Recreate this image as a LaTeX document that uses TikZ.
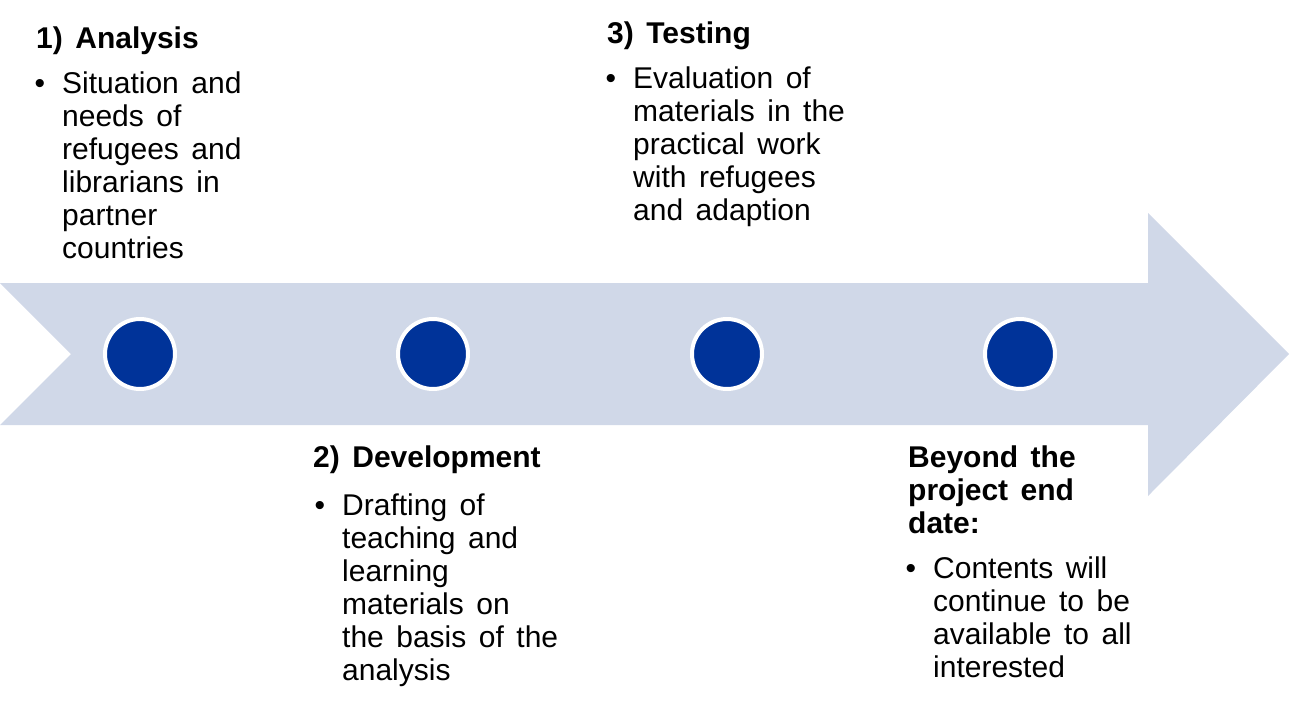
\documentclass[tikz,border=0pt]{standalone}
\usepackage{fontspec}
\setmainfont{Liberation Sans}[WordSpace=1.5]
\definecolor{arrowfill}{RGB}{208,216,232}
\definecolor{dotblue}{RGB}{0,51,153}
\newcommand{\blk}[2]{\parbox[t]{#1}{\raggedright\fontsize{30}{33}\selectfont #2}}
\newcommand{\bul}{\leavevmode\llap{\textbullet\hspace{17pt}}}
\begin{document}
\begin{tikzpicture}[x=1pt,y=-1pt,
  dot/.style={circle,fill=dotblue,draw=white,line width=4pt,minimum size=70pt,inner sep=0pt},
  title/.style={anchor=base west,inner sep=0pt,font=\fontsize{30}{33}\selectfont\bfseries},
  body/.style={anchor=base west,inner sep=0pt}]
\useasboundingbox (0,0) rectangle (1290,710);
\fill[arrowfill] (0,283) -- (1148,283) -- (1148,213) -- (1289,354) -- (1148,496)
  -- (1148,425) -- (0,425) -- (71,354) -- cycle;
\node[dot] (c1) at (140,354) {};
\node[dot] (c2) at (433,354) {};
\node[dot] (c3) at (727,354) {};
\node[dot] (c4) at (1020,354) {};
\node[title] (t1) at (36,48) {1) Analysis};
\node[body] (b1) at (62,93) {\blk{240pt}{\bul Situation and\\needs of\\refugees and\\librarians in\\partner\\countries}};
\node[title] (t3) at (607,43) {3) Testing};
\node[body] (b3) at (633,88) {\blk{260pt}{\bul Evaluation of\\materials in the\\practical work\\with refugees\\and adaption}};
\node[title] (t2) at (313,467) {2) Development};
\node[body] (b2) at (342,515) {\blk{260pt}{\bul Drafting of\\teaching and\\learning\\materials on\\the basis of the\\analysis}};
\node[body] (t4) at (908,467) {\blk{260pt}{\bfseries Beyond the\\project end\\date:}};
\node[body] (b4) at (933,578) {\blk{260pt}{\bul Contents will\\continue to be\\available to all\\interested}};
\end{tikzpicture}
\end{document}
